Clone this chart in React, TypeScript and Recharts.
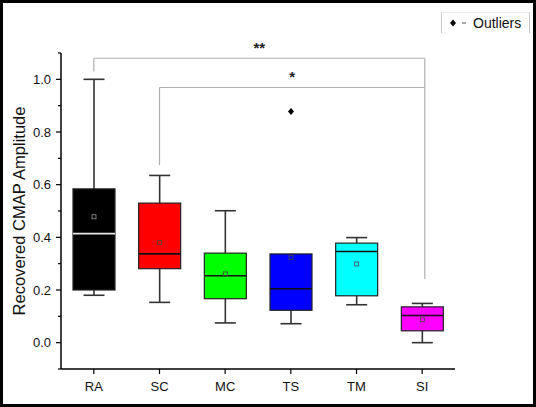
import React from 'react';
import { ComposedChart, Bar, XAxis, YAxis, ReferenceLine, Cell, Label } from 'recharts';

// Groups and their box-plot statistics
const groups = ['RA', 'SC', 'MC', 'TS', 'TM', 'SI'];
const positions = [1, 2, 3, 4, 5, 6];
const whiskerLow = [0.18, 0.153, 0.075, 0.072, 0.144, 0.0];
const q1 = [0.2, 0.281, 0.167, 0.123, 0.178, 0.045];
const median = [0.414, 0.337, 0.254, 0.205, 0.346, 0.103];
const q3 = [0.584, 0.53, 0.34, 0.337, 0.378, 0.136];
const whiskerHigh = [1.0, 0.635, 0.501, 0.337, 0.399, 0.149];
const mean = [0.478, 0.38, 0.261, 0.324, 0.299, 0.087];
const outliers: number[][] = [[], [], [], [0.878], [], []];
const boxColors = ['#000000', '#ff0000', '#00ff00', '#0000ff', '#00ffff', '#ff00ff'];

// Y axis ticks (every 0.1; labels on every 0.2)
const yTicks = [-0.1, 0, 0.1, 0.2, 0.3, 0.4, 0.5, 0.6, 0.7, 0.8, 0.9, 1.0, 1.1];

// Significance brackets
const bracketFrom = [1, 2];
const bracketTo = [6.04, 6.04];
const bracketLevel = [1.08, 0.969];
const bracketLeftEnd = [1.03, 0.674];
const bracketRightEnd = [0.242, 0.969];
const bracketMark = ['**', '*'];

const data = groups.map((g, i) => ({
  pos: positions[i],
  group: g,
  box: [q1[i], q3[i]],
  low: whiskerLow[i],
  q1: q1[i],
  median: median[i],
  q3: q3[i],
  high: whiskerHigh[i],
  mean: mean[i],
  outliers: outliers[i],
}));

const FONT = '"Liberation Sans", Arial, sans-serif';

const BoxShape = (props: any) => {
  const { x, y, width, height, payload, fill } = props;
  const top = Math.min(y, y + height);
  const h = Math.abs(height);
  const k = h / (payload.q3 - payload.q1);
  const py = (v: number) => top + (payload.q3 - v) * k;
  const cx = x + width / 2;
  const cap = width / 4;
  const whisker = '#333333';
  const isDark = fill === '#000000';
  return (
    <g>
      {payload.high > payload.q3 && (
        <g>
          <line x1={cx} x2={cx} y1={py(payload.high)} y2={top} stroke={whisker} strokeWidth={1.6} />
          <line x1={cx - cap} x2={cx + cap} y1={py(payload.high)} y2={py(payload.high)} stroke={whisker} strokeWidth={1.6} />
        </g>
      )}
      {payload.low < payload.q1 && (
        <g>
          <line x1={cx} x2={cx} y1={top + h} y2={py(payload.low)} stroke={whisker} strokeWidth={1.6} />
          <line x1={cx - cap} x2={cx + cap} y1={py(payload.low)} y2={py(payload.low)} stroke={whisker} strokeWidth={1.6} />
        </g>
      )}
      <rect x={x} y={top} width={width} height={h} fill={fill} stroke="#222" strokeWidth={1.2} />
      <line
        x1={x}
        x2={x + width}
        y1={py(payload.median)}
        y2={py(payload.median)}
        stroke={isDark ? '#e8e8e8' : '#111'}
        strokeWidth={1.6}
      />
      <rect
        x={cx - 2}
        y={py(payload.mean) - 2}
        width={4}
        height={4}
        fill="none"
        stroke={isDark ? '#999' : '#444'}
        strokeWidth={0.8}
      />
      {payload.outliers.map((o: number, j: number) => {
        const oy = py(o);
        return (
          <path
            key={j}
            d={`M${cx},${oy - 3.5} L${cx + 3},${oy} L${cx},${oy + 3.5} L${cx - 3},${oy} Z`}
            fill="#000"
          />
        );
      })}
    </g>
  );
};

const YTick = (props: any) => {
  const { x, y, payload } = props;
  const v = payload.value as number;
  const tenth = Math.round(v * 10);
  const major = tenth >= 0 && tenth % 2 === 0;
  return (
    <g>
      <line x1={x - (major ? 5 : 3)} x2={x} y1={y} y2={y} stroke="#000" strokeWidth={1.2} />
      {major && (
        <text x={x - 10} y={y} dy="0.355em" textAnchor="end" fontSize={13} fill="#111" fontFamily={FONT}>
          {v.toFixed(1)}
        </text>
      )}
    </g>
  );
};

const XTick = (props: any) => {
  const { x, y, payload } = props;
  const idx = positions.indexOf(payload.value);
  return (
    <g>
      <line x1={x} x2={x} y1={y} y2={y + 5} stroke="#000" strokeWidth={1.2} />
      <text x={x} y={y + 13} dy="0.71em" textAnchor="middle" fontSize={13} fill="#111" fontFamily={FONT}>
        {groups[idx]}
      </text>
    </g>
  );
};

const YLabel = (props: any) => {
  const vb = props.viewBox;
  const cx = vb.x + 13.5;
  const cy = vb.y + vb.height / 2;
  return (
    <text
      x={cx}
      y={cy}
      transform={`rotate(-90 ${cx} ${cy})`}
      textAnchor="middle"
      fontSize={16.5}
      fill="#111"
      fontFamily={FONT}
    >
      Recovered CMAP Amplitude
    </text>
  );
};

export default function App() {
  return (
    <div
      style={{
        position: 'absolute',
        left: 0,
        top: 0,
        width: 536,
        height: 407,
        background: '#fff',
        fontFamily: FONT,
      }}
    >
      <ComposedChart
        width={536}
        height={407}
        data={data}
        margin={{ top: 53, right: 81, bottom: 8, left: 11 }}
      >
        <XAxis
          dataKey="pos"
          type="number"
          domain={[0.5, 6.5]}
          ticks={positions}
          allowDataOverflow
          height={30}
          tickSize={0}
          tickMargin={0}
          tickLine={false}
          tick={<XTick />}
          axisLine={{ stroke: '#000', strokeWidth: 1.5 }}
        />
        <YAxis
          type="number"
          domain={[-0.1, 1.1]}
          ticks={yTicks}
          allowDataOverflow
          width={50}
          tickSize={0}
          tickMargin={0}
          tickLine={false}
          tick={<YTick />}
          axisLine={{ stroke: '#000', strokeWidth: 1.5 }}
          interval={0}
        >
          <Label content={<YLabel />} />
        </YAxis>
        {bracketFrom.map((f, i) => (
          <ReferenceLine
            key={`h${i}`}
            segment={[
              { x: f, y: bracketLevel[i] },
              { x: bracketTo[i], y: bracketLevel[i] },
            ]}
            stroke="#b0b0b0"
            strokeWidth={1.2}
            ifOverflow="visible"
            label={{ value: bracketMark[i], position: 'top', offset: 5, fontSize: 15, fill: '#222', fontWeight: 'bold' }}
          />
        ))}
        {bracketFrom.map((f, i) => (
          <ReferenceLine
            key={`l${i}`}
            segment={[
              { x: f, y: bracketLevel[i] },
              { x: f, y: bracketLeftEnd[i] },
            ]}
            stroke="#b0b0b0"
            strokeWidth={1.2}
            ifOverflow="visible"
          />
        ))}
        {bracketFrom.map((f, i) =>
          bracketRightEnd[i] < bracketLevel[i] ? (
            <ReferenceLine
              key={`r${i}`}
              segment={[
                { x: bracketTo[i], y: bracketLevel[i] },
                { x: bracketTo[i], y: bracketRightEnd[i] },
              ]}
              stroke="#b0b0b0"
              strokeWidth={1.2}
              ifOverflow="visible"
            />
          ) : null
        )}
        <Bar dataKey="box" barSize={42} shape={<BoxShape />} isAnimationActive={false}>
          {data.map((d, i) => (
            <Cell key={d.group} fill={boxColors[i]} />
          ))}
        </Bar>
      </ComposedChart>

      {/* Legend */}
      <div
        style={{
          position: 'absolute',
          left: 441,
          top: 12,
          width: 87,
          height: 20,
          borderLeft: '1px solid #c8c8c8',
          borderRight: '1px solid #c8c8c8',
          borderTop: '1px solid #ececec',
        }}
      >
        <svg width={30} height={20} style={{ position: 'absolute', left: 0, top: 0 }}>
          <path d="M11,6.5 L14,10 L11,13.5 L8,10 Z" fill="#000" />
          <rect x={20} y={9} width={4} height={2} fill="#aaa" />
        </svg>
        <span
          style={{
            position: 'absolute',
            left: 31,
            top: 1,
            fontSize: 14,
            lineHeight: '18px',
            color: '#111',
            whiteSpace: 'nowrap',
          }}
        >
          Outliers
        </span>
      </div>

      {/* Outer frame */}
      <div
        style={{
          position: 'absolute',
          left: 0,
          top: 0,
          width: 536,
          height: 407,
          boxSizing: 'border-box',
          border: '3px solid #000',
          pointerEvents: 'none',
        }}
      />
    </div>
  );
}
